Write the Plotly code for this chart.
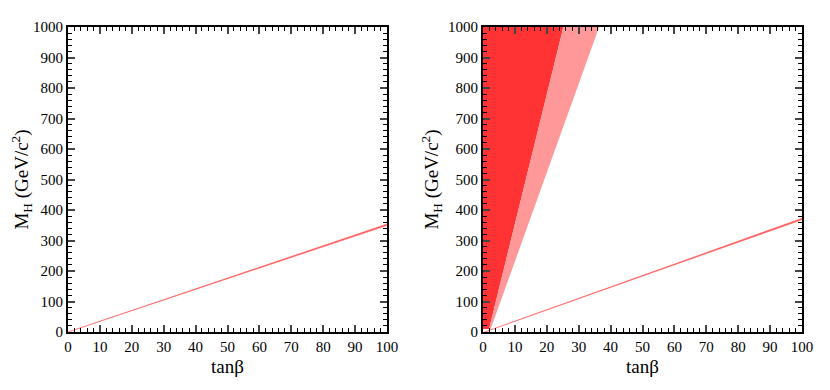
import plotly.graph_objects as go

# tan(beta) vs M_H, two panels
X_RANGE = [0, 100]
Y_RANGE = [0, 1000]

# left panel: thin band (lower / upper edge)
left_band_x = [0, 100]
left_band_lo = [0, 349]
left_band_hi = [0, 354]

# right panel: thin band
right_band_x = [0.5, 100]
right_band_lo = [0, 368]
right_band_hi = [0, 373]

# right panel: excluded regions (polygons)
dark_x = [0, 0, 25.2, 1.9, 0]
dark_y = [10, 1000, 1000, 10, 10]
pink_x = [1.9, 25.2, 36.4, 2.4, 1.9]
pink_y = [10, 1000, 1000, 10, 10]

DARK_RED = "#ff3333"
PINK = "#ff9999"
LINE_RED = "#ff5c5c"
FONT = "Liberation Serif"

fig = go.Figure()

# left band
fig.add_trace(go.Scatter(x=left_band_x, y=left_band_lo, mode="lines",
                         line=dict(color=LINE_RED, width=0.5),
                         xaxis="x", yaxis="y", showlegend=False))
fig.add_trace(go.Scatter(x=left_band_x, y=left_band_hi, mode="lines",
                         line=dict(color=LINE_RED, width=0.5), fill="tonexty",
                         fillcolor=LINE_RED, xaxis="x", yaxis="y", showlegend=False))

# right panel regions
fig.add_trace(go.Scatter(x=dark_x, y=dark_y, mode="lines", fill="toself",
                         fillcolor=DARK_RED, line=dict(width=0),
                         xaxis="x2", yaxis="y2", showlegend=False))
fig.add_trace(go.Scatter(x=pink_x, y=pink_y, mode="lines", fill="toself",
                         fillcolor=PINK, line=dict(width=0),
                         xaxis="x2", yaxis="y2", showlegend=False))
fig.add_trace(go.Scatter(x=right_band_x, y=right_band_lo, mode="lines",
                         line=dict(color=LINE_RED, width=0.5),
                         xaxis="x2", yaxis="y2", showlegend=False))
fig.add_trace(go.Scatter(x=right_band_x, y=right_band_hi, mode="lines",
                         line=dict(color=LINE_RED, width=0.5), fill="tonexty",
                         fillcolor=LINE_RED, xaxis="x2", yaxis="y2", showlegend=False))

xax = dict(range=X_RANGE, dtick=10, ticks="inside", ticklen=7, tickwidth=1.5,
           showline=True, linewidth=2, linecolor="black", mirror="allticks",
           showgrid=False, zeroline=False, automargin=False,
           minor=dict(ticks="inside", ticklen=4, dtick=2, tickwidth=1.2, tickcolor="black"),
           tickfont=dict(family=FONT, size=15, color="black"),
           title=dict(text="tanβ", font=dict(family=FONT, size=19, color="black"), standoff=6))
yax = dict(range=Y_RANGE, dtick=100, ticks="inside", ticklen=7, tickwidth=1.5,
           showline=True, linewidth=2, linecolor="black", mirror="allticks",
           showgrid=False, zeroline=False, automargin=False,
           minor=dict(ticks="inside", ticklen=4, dtick=20, tickwidth=1.2, tickcolor="black"),
           tickfont=dict(family=FONT, size=15, color="black"),
           title=dict(text="M<sub>H</sub> (GeV/c<sup>2</sup>)",
                      font=dict(family=FONT, size=19, color="black"), standoff=4))

# page body adds an 8px offset, so margins are shifted by 8
PAD = 8
L, R, T, B = 68 - PAD, 28 + PAD, 27 - PAD, 58 + PAD
PLOT_W = 830 - L - R
fig.update_layout(
    width=830, height=390,
    margin=dict(l=L, r=R, t=T, b=B),
    paper_bgcolor="white", plot_bgcolor="white",
    xaxis=dict(xax, domain=[0, (387 - 68) / PLOT_W], anchor="y"),
    yaxis=dict(yax, domain=[0, 1], anchor="x"),
    xaxis2=dict(xax, domain=[(483 - 68) / PLOT_W, 1], anchor="y2"),
    yaxis2=dict(yax, domain=[0, 1], anchor="x2"),
)

fig.write_html("out.html")
